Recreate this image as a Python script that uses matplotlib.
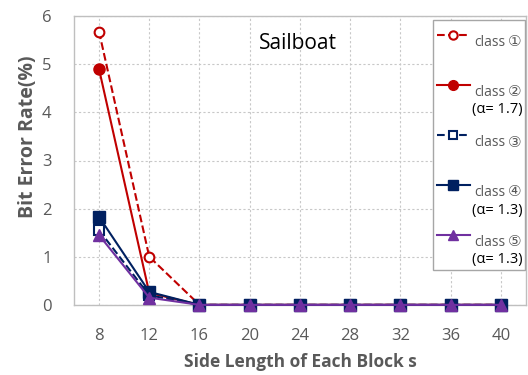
import numpy as np
import matplotlib.pyplot as plt
from matplotlib.lines import Line2D
from matplotlib.patches import Rectangle

plt.rcParams['font.family'] = ['Open Sans', 'DejaVu Sans']

# --- Dados ---
block_sizes = [8, 12, 16, 20, 24, 28, 32, 36, 40]
class1 = [5.68, 1.00, 0, 0, 0, 0, 0, 0, 0]
class2 = [4.90, 0.25, 0, 0, 0, 0, 0, 0, 0]
class3 = [1.55, 0.20, 0, 0, 0, 0, 0, 0, 0]
class4 = [1.83, 0.27, 0, 0, 0, 0, 0, 0, 0]
class5 = [1.45, 0.15, 0, 0, 0, 0, 0, 0, 0]
digits = ['\u2460', '\u2461', '\u2462', '\u2463', '\u2464']
alphas = [None, '(\u03b1= 1.7)', None, '(\u03b1= 1.3)', '(\u03b1= 1.3)']

RED = '#c00000'
NAVY = '#002060'
PURPLE = '#7030a0'
GREY = '#595959'

styles = [
    dict(color=RED, ls='--', marker='o', mfc='white', mec=RED, ms=7, mew=1.5, lw=1.5),
    dict(color=RED, ls='-', marker='o', mfc=RED, mec=RED, ms=8, lw=1.5),
    dict(color=NAVY, ls='--', marker='s', mfc='white', mec=NAVY, ms=7, mew=1.5, lw=1.5),
    dict(color=NAVY, ls='-', marker='s', mfc=NAVY, mec=NAVY, ms=8, lw=1.5),
    dict(color=PURPLE, ls='-', marker='^', mfc=PURPLE, mec=PURPLE, ms=8, lw=1.5),
]
series = [class1, class2, class3, class4, class5]

fig = plt.figure(figsize=(5.28, 3.75), dpi=100)
ax = fig.add_axes([0.140, 0.187, 0.856, 0.770])

x = np.arange(len(block_sizes))
for ys, st in zip(series, styles):
    ax.plot(x, ys, clip_on=False, zorder=3, **st)

ax.set_xlim(-0.5, len(block_sizes) - 0.5)
ax.set_ylim(0, 6)
ax.set_xticks(x)
ax.set_xticklabels([str(b) for b in block_sizes])
ax.set_yticks(range(7))
ax.tick_params(length=0, labelsize=12, labelcolor=GREY)
ax.tick_params(axis='x', pad=17)
ax.tick_params(axis='y', pad=16)
ax.grid(True, ls=(0, (2, 2)), color='#c8c8c8', lw=0.8)
for s in ax.spines.values():
    s.set_color('#bfbfbf')
    s.set_linewidth(1)

ax.set_xlabel('Side Length of Each Block s', fontsize=12.5, fontweight='bold',
              color=GREY)
ax.set_ylabel('Bit Error Rate(%)', fontsize=14, fontweight='bold', color=GREY)
# posição dos rótulos como no original (pixels -> eixos)
ax.xaxis.set_label_coords((300 - 74) / 452, -(353 - 305) / 289)
ax.yaxis.set_label_coords(-(74 - 38) / 452, (305 - 137) / 289)

ax.text(0.495, 0.905, 'Sailboat', transform=ax.transAxes, ha='center',
        va='center', fontsize=15, color='black')

# --- Legenda manual (coordenadas em pixels da figura) ---
W, H = 528, 375
def fx(px):
    return px / W
def fy(py):
    return 1 - py / H

fig.patches.append(Rectangle((fx(433), fy(270)), fx(525) - fx(433), fy(20) - fy(270),
                             transform=fig.transFigure, fill=True, fc='white',
                             ec='#a6a6a6', lw=1, zorder=5))
for i, (dg, al, st) in enumerate(zip(digits, alphas, styles)):
    ym = 35 + 50 * i
    fig.lines.append(Line2D([fx(437), fx(470)], [fy(ym), fy(ym)],
                            transform=fig.transFigure, zorder=6,
                            color=st['color'], ls=st['ls'], lw=st['lw']))
    fig.lines.append(Line2D([fx(453)], [fy(ym)], transform=fig.transFigure, zorder=7,
                            marker=st['marker'], mfc=st['mfc'], mec=st['mec'],
                            ms=st['ms'] - 1, mew=st.get('mew', 1)))
    fig.text(fx(474), fy(ym + 7), 'class', ha='left', va='center', fontsize=10,
             color=GREY, zorder=7)
    fig.text(fx(508), fy(ym + 7), dg, ha='left', va='center', fontsize=11,
             color=GREY, zorder=7, family='DejaVu Sans')
    if al:
        fig.text(fx(523), fy(ym + 25), al, ha='right', va='center', fontsize=10.5,
                 color='black', zorder=7)

fig.savefig('out.png', dpi=100)
